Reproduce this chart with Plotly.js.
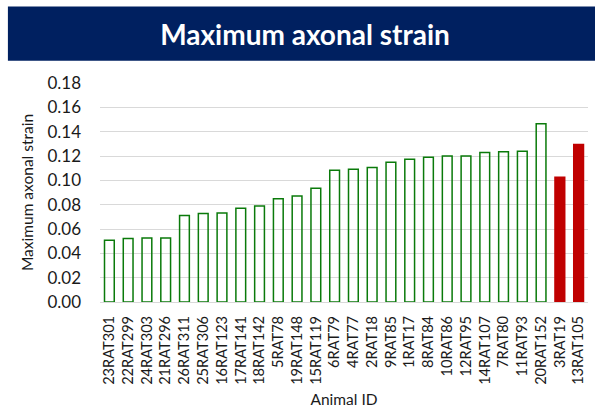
<!DOCTYPE html>
<html>
<head>
<meta charset="utf-8">
<script src="https://cdn.plot.ly/plotly-3.0.1.min.js"></script>
<style>html,body{margin:0;padding:0;background:#fff}#chart{width:595px;height:417px}</style>
</head>
<body>
<div id="chart"></div>
<script>
const animalIds = ["23RAT301","22RAT299","24RAT303","21RAT296","26RAT311","25RAT306","16RAT123","17RAT141","18RAT142","5RAT78","19RAT148","15RAT119","6RAT79","4RAT77","2RAT18","9RAT85","1RAT17","8RAT84","10RAT86","12RAT95","14RAT107","7RAT80","11RAT93","20RAT152","3RAT19","13RAT105"];
const strainValues = [0.0507,0.0521,0.0527,0.0527,0.0710,0.0727,0.0732,0.0770,0.0790,0.0848,0.0872,0.0935,0.1083,0.1091,0.1105,0.1149,0.1174,0.1190,0.1199,0.1199,0.1229,0.1234,0.1240,0.1465,0.1026,0.1295];
const highlighted = ["3RAT19","13RAT105"];
const yTicks = [0,0.02,0.04,0.06,0.08,0.10,0.12,0.14,0.16,0.18];

const fillColors = animalIds.map(id => highlighted.includes(id) ? '#C00000' : 'rgba(255,255,255,0)');
const lineColors = animalIds.map(id => highlighted.includes(id) ? '#C00000' : '#0a7a0a');

const font = 'Lato, Carlito, "Open Sans", sans-serif';

const trace = {
  type: 'bar',
  x: animalIds,
  y: strainValues,
  marker: {color: fillColors, line: {color: lineColors, width: 1.5}},
  hoverinfo: 'x+y'
};

const layout = {
  width: 595, height: 417,
  margin: {l: 100, r: 7, t: 83.3, b: 115, pad: 0},
  paper_bgcolor: '#fff', plot_bgcolor: '#fff',
  bargap: 0.48,
  showlegend: false,
  font: {family: font, color: '#1a1a1a', size: 13},
  title: {text: '<b>Maximum axonal strain</b>', font: {family: font, size: 28, color: '#fff'},
          x: 305/595, xanchor: 'center', xref: 'container', y: 1 - 35/417, yanchor: 'middle', yref: 'container'},
  xaxis: {
    type: 'category', tickangle: -90, automargin: false,
    tickfont: {family: font, size: 14.6, color: '#1a1a1a'},
    showgrid: false, zeroline: false, showline: false, ticks: '',
    ticklabelstandoff: 10,
    title: {text: 'Animal ID', font: {family: font, size: 15.5, color: '#1a1a1a'}, standoff: 10}
  },
  yaxis: {
    range: [0, 0.18], tickvals: yTicks, ticktext: yTicks.map(v => v.toFixed(2)),
    automargin: false,
    tickfont: {family: font, size: 17, color: '#1a1a1a'},
    showgrid: true, gridcolor: '#d9d9d9', gridwidth: 1,
    zeroline: true, zerolinecolor: '#d9d9d9', zerolinewidth: 1,
    showline: false, ticks: '', ticklabelstandoff: 18,
    title: {text: 'Maximum axonal strain', font: {family: font, size: 15.5, color: '#1a1a1a'}, standoff: 9}
  },
  shapes: [{
    type: 'rect', xref: 'paper', yref: 'paper', layer: 'below',
    x0: (8-100)/487.5, x1: (595-100)/487.5,
    y0: (302-61)/218.7, y1: (302-7)/218.7,
    fillcolor: '#002060', line: {width: 0}
  }]
};

Plotly.newPlot('chart', [trace], layout, {displayModeBar: false, staticPlot: true});
</script>
</body>
</html>
